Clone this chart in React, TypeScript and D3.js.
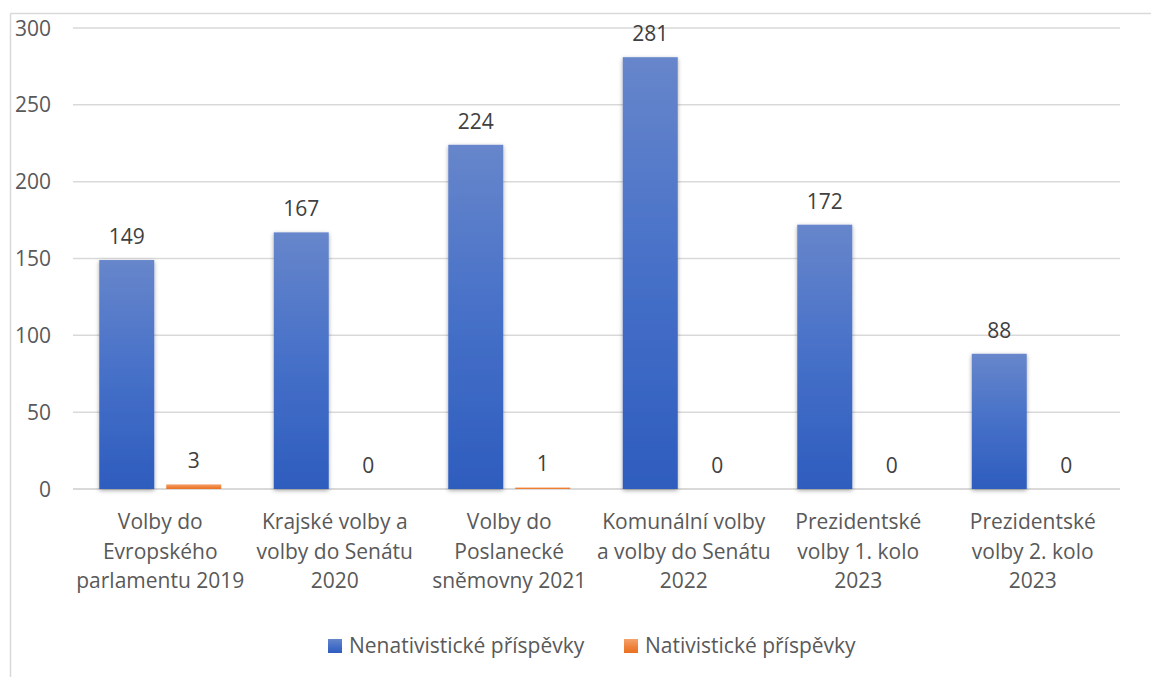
import React from "react";
import * as d3 from "d3";

const categories: string[][] = [
  ["Volby do", "Evropského", "parlamentu 2019"],
  ["Krajské volby a", "volby do Senátu", "2020"],
  ["Volby do", "Poslanecké", "sněmovny 2021"],
  ["Komunální volby", "a volby do Senátu", "2022"],
  ["Prezidentské", "volby 1. kolo", "2023"],
  ["Prezidentské", "volby 2. kolo", "2023"],
];
const seriesNames = ["Nenativistické příspěvky", "Nativistické příspěvky"];
const nenativisticke = [149, 167, 224, 281, 172, 88];
const nativisticke = [3, 0, 1, 0, 0, 0];
const yTicks = [0, 50, 100, 150, 200, 250, 300];

const W = 1151;
const H = 677;
const FONT = "'Open Sans', sans-serif";
const TEXT = "#595959";
const FS = 21;

export default function App() {
  const catKeys = categories.map((c) => c.join(" "));
  const y = d3.scaleLinear().domain([0, 300]).range([489, 28]);
  const x0 = d3.scaleBand<string>().domain(catKeys).range([73, 1120]).padding(0);
  const x1 = d3
    .scaleBand<string>()
    .domain(seriesNames)
    .range([0, x0.bandwidth()])
    .paddingInner(0.179)
    .paddingOuter(0.392);
  const series = [nenativisticke, nativisticke];
  const gradIds = ["gBlue", "gOrange"];

  return (
    <svg width={W} height={H} style={{ display: "block", position: "absolute", left: 0, top: 0 }}>
      <defs>
        <linearGradient id="gBlue" x1="0" y1="0" x2="0" y2="1">
          <stop offset="0" stopColor="#6786CB" />
          <stop offset="0.5" stopColor="#4670C8" />
          <stop offset="1" stopColor="#2E5DBE" />
        </linearGradient>
        <linearGradient id="gOrange" x1="0" y1="0" x2="0" y2="1">
          <stop offset="0" stopColor="#F4A26C" />
          <stop offset="0.5" stopColor="#F08540" />
          <stop offset="1" stopColor="#E8711F" />
        </linearGradient>
        <filter id="shadow" x="-30%" y="-10%" width="160%" height="120%">
          <feDropShadow dx="0" dy="1.5" stdDeviation="2" floodColor="#000" floodOpacity="0.35" />
        </filter>
      </defs>
      <rect x={0} y={0} width={W} height={H} fill="#fff" />
      {/* chart border */}
      <line x1={10.5} x2={W} y1={13.5} y2={13.5} stroke="#d9d9d9" strokeWidth={1.5} />
      <line x1={10.5} x2={10.5} y1={13.5} y2={H} stroke="#d9d9d9" strokeWidth={1.5} />

      {/* gridlines */}
      {yTicks.map((t) => (
        <g key={t}>
          <line
            x1={73}
            x2={1120}
            y1={y(t)}
            y2={y(t)}
            stroke="#d9d9d9"
            strokeWidth={t === 0 ? 2 : 1.5}
          />
          <text
            x={51}
            y={y(t)}
            dy="0.36em"
            textAnchor="end"
            fontFamily={FONT}
            fontSize={FS}
            fill={TEXT}
          >
            {t}
          </text>
        </g>
      ))}

      {/* bars */}
      {catKeys.map((c, i) => (
        <g key={c} transform={`translate(${x0(c)},0)`}>
          {series.map((s, si) => {
            const v = s[i];
            const bx = x1(seriesNames[si])!;
            const bw = x1.bandwidth();
            return (
              <g key={si}>
                {v > 0 && (
                  <rect
                    x={bx}
                    y={y(v)}
                    width={bw}
                    height={y(0) - y(v)}
                    fill={`url(#${gradIds[si]})`}
                    filter={si === 0 ? "url(#shadow)" : undefined}
                  />
                )}
                <text
                  x={bx + bw / 2}
                  y={y(v) - 16}
                  textAnchor="middle"
                  fontFamily={FONT}
                  fontSize={FS}
                  fill="#404040"
                >
                  {v}
                </text>
              </g>
            );
          })}
          {categories[i].map((line, li) => (
            <text
              key={li}
              x={x0.bandwidth() / 2}
              y={529 + li * 29.5}
              textAnchor="middle"
              fontFamily={FONT}
              fontSize={FS}
              fill={TEXT}
            >
              {line}
            </text>
          ))}
        </g>
      ))}

      {/* legend */}
      {seriesNames.map((n, i) => {
        const lx = [328, 624][i];
        return (
          <g key={n}>
            <rect x={lx} y={639} width={14} height={14} fill={`url(#${gradIds[i]})`} />
            <text x={lx + 21} y={653} fontFamily={FONT} fontSize={FS} fill={TEXT}>
              {n}
            </text>
          </g>
        );
      })}
    </svg>
  );
}
